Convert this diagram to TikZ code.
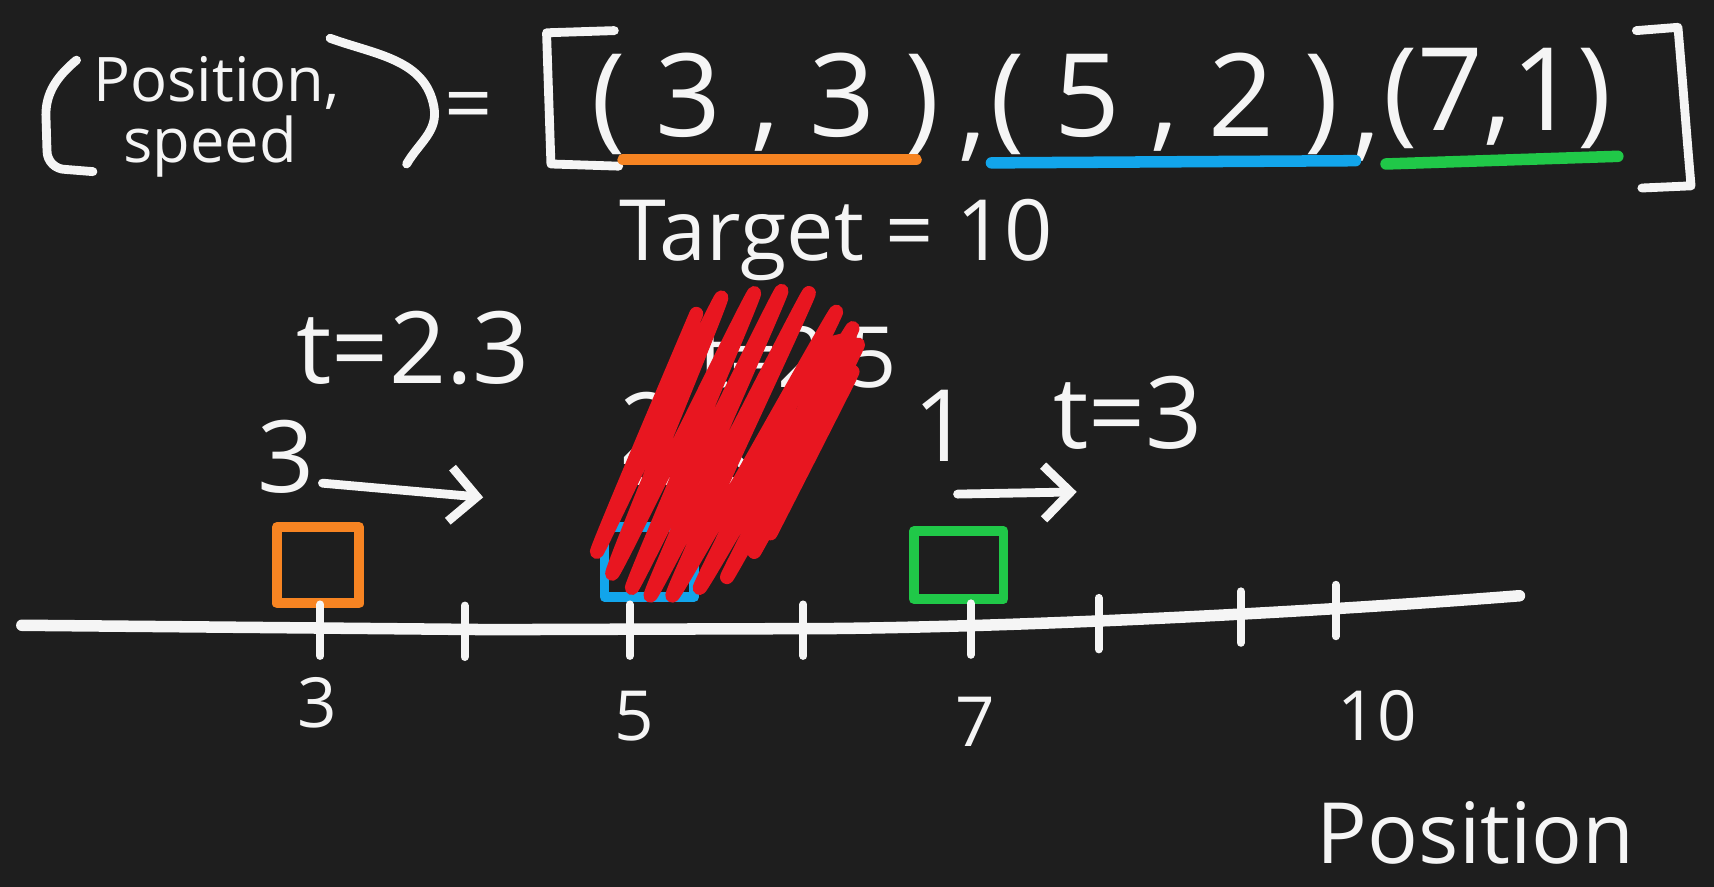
\documentclass[tikz,border=0pt]{standalone}
\usepackage{fontspec}
\setmainfont{Open Sans}
\usetikzlibrary{arrows.meta}

\definecolor{board}{RGB}{30,30,30}
\definecolor{chalk}{RGB}{245,245,245}
\definecolor{carorange}{RGB}{247,132,34}
\definecolor{carblue}{RGB}{18,165,235}
\definecolor{cargreen}{RGB}{32,200,72}
\definecolor{scribble}{RGB}{232,22,32}

\begin{document}
\begin{tikzpicture}[
every node/.style={text=chalk, inner sep=0pt},
chalkline/.style={draw=chalk, line width=2.3pt, line cap=round, line join=round},
big/.style={font=\fontsize{30}{34}\selectfont},
hand/.style={font=\fontsize{26}{30}\selectfont},
mid/.style={font=\fontsize{22}{26}\selectfont},
small/.style={font=\fontsize{18}{22}\selectfont},
tiny/.style={font=\fontsize{16}{18}\selectfont},
car/.style={draw, line width=2.6pt, line join=round, minimum width=0.75cm, minimum height=0.7cm},
move/.style={chalkline, -{Straight Barb[length=7pt, width=14pt, line width=2.3pt]}},
under/.style={line width=3pt, line cap=round},
tickmark/.style={chalkline, line width=2.1pt}
]

\useasboundingbox (0,0) rectangle (15.68,-8.11);
\fill[board] (0,0) rectangle (15.68,-8.11);

% (position, speed) = [ ... ]
\node[tiny] (pos) at (1.98,-0.76) {Position,};
\node[tiny] (spd) at (1.92,-1.34) {speed};
\draw[chalkline] (0.7,-0.55) .. controls (0.52,-0.7) and (0.42,-0.85) .. (0.42,-1.05)
    -- (0.43,-1.38) to[out=270,in=180] (0.6,-1.55) -- (0.85,-1.57);
\draw[chalkline] (3.02,-0.35) to[out=-20,in=100] (3.97,-0.98) to[out=280,in=60] (3.72,-1.5);
\node[mid] (eq) at (4.29,-1.03) {=};
\draw[chalkline] (5.62,-0.28) -- (5.0,-0.3) -- (5.04,-1.5) -- (5.66,-1.52);

\node[big] (tupA) at (7.0,-0.95) {( 3 , 3 )};
\node[big] (cA) at (8.9,-1.35) {,};
\node[big] (tupB) at (10.65,-0.95) {( 5 , 2 )};
\node[big] (cB) at (12.5,-1.35) {,};
\node[big] (tupC) at (13.7,-0.9) {(7,1)};
\draw[chalkline] (14.97,-0.28) -- (15.35,-0.25) to[out=-85,in=95] (15.47,-1.7) -- (15.02,-1.72);

\draw[under, carorange] (5.7,-1.46) -- (8.38,-1.46);
\draw[under, carblue] (9.07,-1.49) -- (12.4,-1.47);
\draw[under, cargreen] (12.68,-1.5) -- (14.8,-1.43);

\node[mid] (target) at (7.65,-2.2) {Target = 10};

% speeds and times
\node[hand] (tA) at (3.78,-3.18) {t=2.3};
\node[hand] (vA) at (2.62,-4.18) {3};
\node[mid] (tB) at (7.3,-3.27) {t=2.5};
\node[hand] (vB) at (5.93,-3.92) {2};
\node[hand] (vC) at (8.62,-3.9) {1};
\node[hand] (tC) at (10.32,-3.78) {t=3};

\coordinate (a1) at (2.95,-4.42);
\coordinate (a2) at (4.42,-4.55);
\coordinate (b1) at (5.78,-4.4);
\coordinate (b2) at (7.0,-4.4);
\coordinate (c1) at (8.76,-4.52);
\coordinate (c2) at (9.85,-4.5);
\draw[move] (a1) -- (a2);
\draw[move] (b1) -- (b2);
\draw[move] (c1) -- (c2);

% cars
\node[car, draw=carorange] (carA) at (2.91,-5.17) {};
\node[car, draw=carblue, minimum width=0.82cm, minimum height=0.64cm] (carB) at (5.94,-5.14) {};
\node[car, draw=cargreen, minimum width=0.82cm, minimum height=0.62cm] (carC) at (8.77,-5.17) {};

% crossed out
\fill[scribble] (7.5,-3.1) -- (7.82,-3.02) -- (7.12,-4.85) -- (6.95,-4.75) -- cycle;
\draw[scribble, line width=3.6pt, line cap=round, line join=round]
    plot[smooth, tension=0.4] coordinates {(6.37,-2.87) (5.46,-5.05) (6.6,-2.72) (5.6,-5.25)
    (6.9,-2.68) (5.78,-5.38) (7.15,-2.66) (5.95,-5.45) (7.4,-2.68) (6.15,-5.45)
    (7.65,-2.85) (6.4,-5.38) (7.8,-3.0) (6.65,-5.28) (7.85,-3.15) (6.9,-5.05) (7.8,-3.4) (7.05,-4.88)};
\draw[scribble, line width=3pt, line cap=round] (6.37,-2.88) -- (5.8,-4.2);

% number line
\draw[chalkline, line width=3pt] (0.2,-5.72) -- (4.5,-5.76) -- (7.6,-5.75)
    .. controls (9.5,-5.73) and (12,-5.6) .. (13.9,-5.45);
\foreach \x/\y in {2.93/5.75, 4.25/5.76, 5.76/5.75, 7.35/5.75, 8.88/5.74, 10.05/5.69, 11.35/5.63, 12.22/5.57}
    \draw[tickmark] (\x,-\y+0.22) -- (\x,-\y-0.25);

\node[small] (n3) at (2.9,-6.43) {3};
\node[small] (n5) at (5.8,-6.55) {5};
\node[small] (n7) at (8.92,-6.6) {7};
\node[small] (n10) at (12.6,-6.55) {10};
\node[mid] (axis) at (13.5,-7.62) {Position};

\end{tikzpicture}
\end{document}
